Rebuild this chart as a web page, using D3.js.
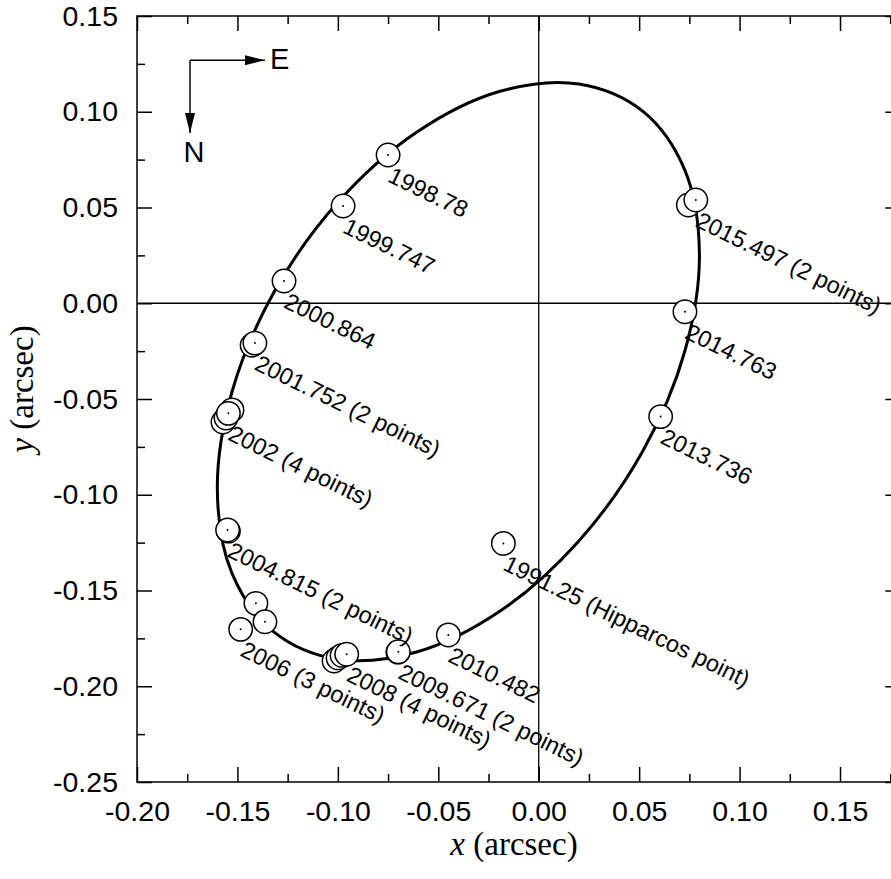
<!DOCTYPE html>
<html><head><meta charset="utf-8">
<script src="https://cdn.jsdelivr.net/npm/d3@7"></script>
<style>body{margin:0;background:#fff} svg{display:block}</style>
</head><body>
<svg id="chart" width="891" height="879"></svg>
<script>
// ---- tick values / labels ----
const xTicks = [-0.20,-0.15,-0.10,-0.05,0.00,0.05,0.10,0.15];
const xTickLabels = ["-0.20","-0.15","-0.10","-0.05","0.00","0.05","0.10","0.15"];
const xMinorTicks = [-0.175,-0.125,-0.075,-0.025,0.025,0.075,0.125,0.175];
const yTicks = [-0.25,-0.20,-0.15,-0.10,-0.05,0.00,0.05,0.10,0.15];
const yTickLabels = ["-0.25","-0.20","-0.15","-0.10","-0.05","0.00","0.05","0.10","0.15"];
const yMinorTicks = [-0.225,-0.175,-0.125,-0.075,-0.025,0.025,0.075,0.125];

// ---- fitted orbit ----
const orbitX = [0.0800,0.0728,0.0519,0.0200,-0.0192,-0.0608,-0.1000,-0.1319,-0.1528,-0.1600,-0.1528,-0.1319,-0.1000,-0.0608,-0.0192,0.0200,0.0519,0.0728];
const orbitY = [0.0260,0.0694,0.1002,0.1145,0.1107,0.0893,0.0527,0.0056,-0.0466,-0.0974,-0.1408,-0.1716,-0.1859,-0.1821,-0.1607,-0.1241,-0.0770,-0.0248];

// ---- observations ----
const pointX = [-0.0176,-0.0750,-0.0974,-0.1268,-0.1427,-0.1413,-0.1572,-0.1557,-0.1527,-0.1545,-0.1545,-0.1549,-0.1408,-0.1363,-0.1484,-0.1019,-0.0999,-0.0979,-0.0956,-0.0701,-0.0699,-0.0450,0.0607,0.0728,0.0745,0.0782];
const pointY = [-0.1254,0.0774,0.0508,0.0116,-0.0219,-0.0208,-0.0620,-0.0599,-0.0557,-0.0575,-0.1190,-0.1184,-0.1567,-0.1663,-0.1703,-0.1868,-0.1852,-0.1839,-0.1833,-0.1822,-0.1820,-0.1732,-0.0592,-0.0044,0.0513,0.0539];

// ---- labels and the point each one belongs to ----
const labelTexts = ["1991.25 (Hipparcos point)","1998.78","1999.747","2000.864","2001.752 (2 points)","2002 (4 points)","2004.815 (2 points)","2006 (3 points)","2008 (4 points)","2009.671 (2 points)","2010.482","2013.736","2014.763","2015.497 (2 points)"];
const labelPoint = [0,1,2,3,5,9,11,14,18,20,21,22,23,25];

// ---- compass (data units) ----
const compassCorner = [-0.1736, 0.1269];
const compassEastX = -0.1363;
const compassNorthY = 0.0889;

(function draw() {
const svg = d3.select("#chart");
const W = 891, H = 879;
const mLeft = 137, mTop = 16, mBottom = 782;
const pxPerUnitX = 2008.6;
const mRight = mLeft + 0.38 * pxPerUnitX;

const x = d3.scaleLinear().domain([-0.20, 0.18]).range([mLeft, mRight]);
const y = d3.scaleLinear().domain([-0.25, 0.15]).range([mBottom, mTop]);

const sans = "'Liberation Sans', Arial, Helvetica, sans-serif";
const serif = "'Liberation Serif', 'Times New Roman', Times, serif";

const g = svg.append("g");

// zero lines
g.append("line").attr("x1", mLeft).attr("x2", mRight).attr("y1", y(0)).attr("y2", y(0))
  .attr("stroke", "#000").attr("stroke-width", 1.3);
g.append("line").attr("x1", x(0)).attr("x2", x(0)).attr("y1", mTop).attr("y2", mBottom)
  .attr("stroke", "#000").attr("stroke-width", 1.3);

// axes
function styleAxis(sel) {
  sel.select(".domain").remove();
  sel.selectAll(".tick line").attr("stroke", "#000").attr("stroke-width", 1.5);
  sel.selectAll("text").attr("font-family", sans).attr("font-size", 28.5).attr("fill", "#000");
}
const fmtX = (d) => xTickLabels[xTicks.findIndex(t => Math.abs(t - d) < 1e-9)];
const fmtY = (d) => yTickLabels[yTicks.findIndex(t => Math.abs(t - d) < 1e-9)];

g.append("g").attr("transform", `translate(0,${mBottom})`)
  .call(d3.axisBottom(x).tickValues(xTicks).tickFormat(fmtX).tickSizeInner(-15).tickSizeOuter(0).tickPadding(19))
  .call(styleAxis);
g.append("g").attr("transform", `translate(0,${mBottom})`)
  .call(d3.axisBottom(x).tickValues(xMinorTicks).tickFormat("").tickSizeInner(-8).tickSizeOuter(0))
  .call(styleAxis);
g.append("g").attr("transform", `translate(0,${mTop})`)
  .call(d3.axisTop(x).tickValues(xTicks).tickFormat("").tickSizeInner(-15).tickSizeOuter(0))
  .call(styleAxis);
g.append("g").attr("transform", `translate(0,${mTop})`)
  .call(d3.axisTop(x).tickValues(xMinorTicks).tickFormat("").tickSizeInner(-8).tickSizeOuter(0))
  .call(styleAxis);
g.append("g").attr("transform", `translate(${mLeft},0)`)
  .call(d3.axisLeft(y).tickValues(yTicks).tickFormat(fmtY).tickSizeInner(-15).tickSizeOuter(0).tickPadding(19))
  .call(styleAxis);
g.append("g").attr("transform", `translate(${mLeft},0)`)
  .call(d3.axisLeft(y).tickValues(yMinorTicks).tickFormat("").tickSizeInner(-8).tickSizeOuter(0))
  .call(styleAxis);
g.append("g").attr("transform", `translate(${mRight},0)`)
  .call(d3.axisRight(y).tickValues(yTicks).tickFormat("").tickSizeInner(-15).tickSizeOuter(0))
  .call(styleAxis);
g.append("g").attr("transform", `translate(${mRight},0)`)
  .call(d3.axisRight(y).tickValues(yMinorTicks).tickFormat("").tickSizeInner(-8).tickSizeOuter(0))
  .call(styleAxis);

// frame
g.append("rect").attr("x", mLeft).attr("y", mTop).attr("width", mRight - mLeft).attr("height", mBottom - mTop)
  .attr("fill", "none").attr("stroke", "#000").attr("stroke-width", 1.5);

// orbit
const orbitPts = orbitX.map((v, i) => [v, orbitY[i]]);
g.append("path")
  .attr("d", d3.line().x(d => x(d[0])).y(d => y(d[1])).curve(d3.curveCatmullRomClosed.alpha(0.5))(orbitPts))
  .attr("fill", "none").attr("stroke", "#000").attr("stroke-width", 3);

// observations
const pts = pointX.map((v, i) => ({x: v, y: pointY[i]}));
const pg = g.append("g");
pts.forEach(p => {
  pg.append("circle").attr("cx", x(p.x)).attr("cy", y(p.y)).attr("r", 11.7)
    .attr("fill", "#fff").attr("stroke", "#000").attr("stroke-width", 1.5);
  pg.append("circle").attr("cx", x(p.x)).attr("cy", y(p.y)).attr("r", 1).attr("fill", "#000");
});

// labels
const angle = 26;
labelTexts.forEach((t, i) => {
  const p = pts[labelPoint[i]];
  g.append("text")
    .attr("transform", `translate(${x(p.x)},${y(p.y)}) rotate(${angle})`)
    .attr("x", 10).attr("y", 24)
    .attr("font-family", sans).attr("font-size", 23.5).attr("fill", "#000")
    .text(t);
});

// compass
const defs = svg.append("defs");
defs.append("marker").attr("id", "ah").attr("viewBox", "0 0 20 10").attr("refX", 20).attr("refY", 5)
  .attr("markerWidth", 20).attr("markerHeight", 10).attr("markerUnits", "userSpaceOnUse").attr("orient", "auto")
  .append("path").attr("d", "M0,0 L20,5 L0,10 Z").attr("fill", "#000");
const cx0 = x(compassCorner[0]), cy0 = y(compassCorner[1]);
g.append("line").attr("x1", cx0).attr("y1", cy0).attr("x2", x(compassEastX)).attr("y2", cy0)
  .attr("stroke", "#000").attr("stroke-width", 1.5).attr("marker-end", "url(#ah)");
g.append("line").attr("x1", cx0).attr("y1", cy0).attr("x2", cx0).attr("y2", y(compassNorthY))
  .attr("stroke", "#000").attr("stroke-width", 1.5).attr("marker-end", "url(#ah)");
g.append("text").attr("x", x(compassEastX) + 5).attr("y", cy0 + 9)
  .attr("font-family", sans).attr("font-size", 29).text("E");
g.append("text").attr("x", cx0 + 4).attr("y", y(compassNorthY) + 29).attr("text-anchor", "middle")
  .attr("font-family", sans).attr("font-size", 29).text("N");

// axis titles
const xt = svg.append("text").attr("x", (mLeft + W) / 2).attr("y", 855).attr("text-anchor", "middle")
  .attr("font-family", serif).attr("font-size", 33).attr("fill", "#000");
xt.append("tspan").attr("font-style", "italic").text("x");
xt.append("tspan").text(" (arcsec)");
const yt = svg.append("text").attr("transform", `translate(33,${(mTop + mBottom) / 2 - 10}) rotate(-90)`)
  .attr("text-anchor", "middle").attr("font-family", serif).attr("font-size", 33).attr("fill", "#000");
yt.append("tspan").attr("font-style", "italic").text("y");
yt.append("tspan").text(" (arcsec)");
})();
</script>
</body></html>
